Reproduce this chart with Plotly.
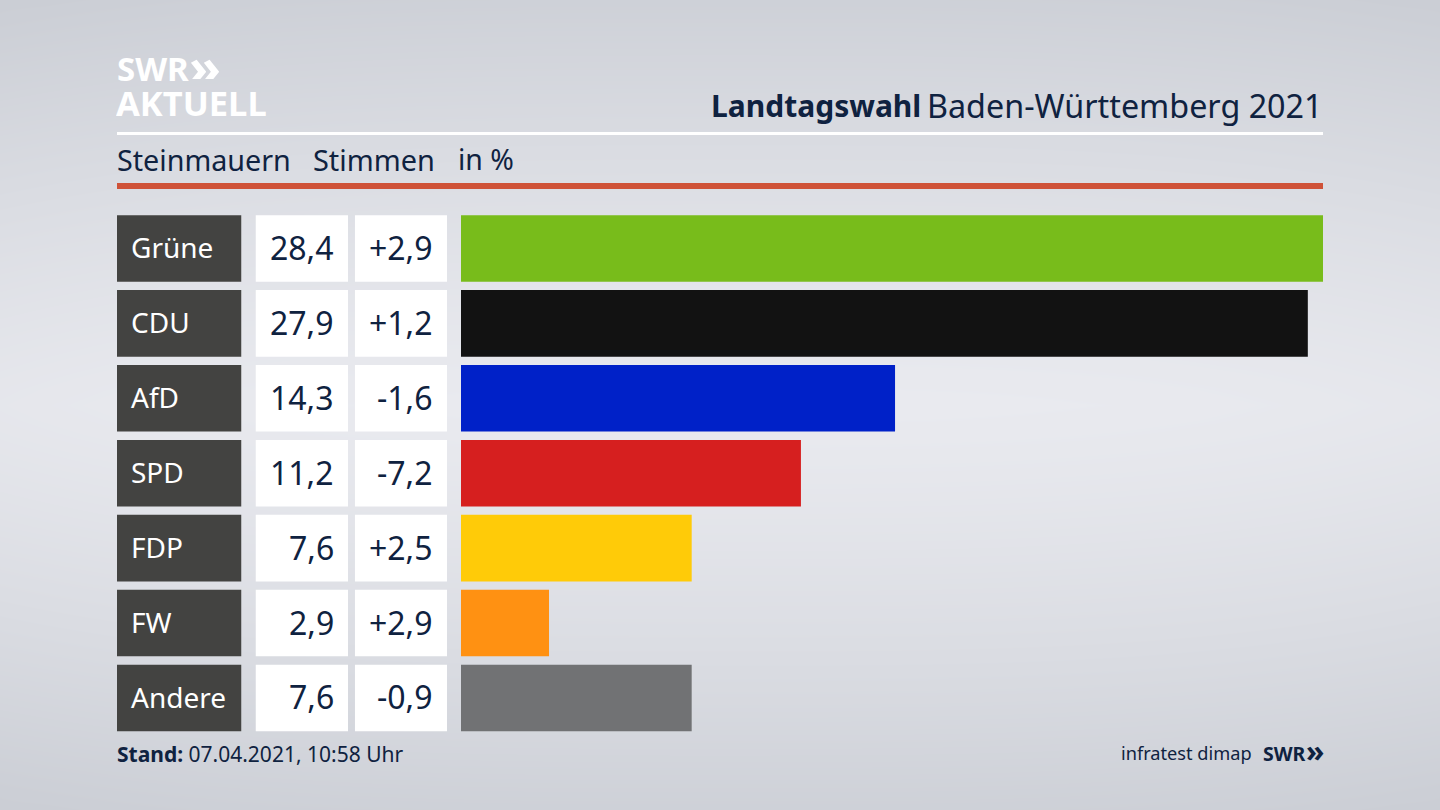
import numpy as np
import plotly.graph_objects as go

parties = ["Grüne", "CDU", "AfD", "SPD", "FDP", "FW", "Andere"]
shares = [28.4, 27.9, 14.3, 11.2, 7.6, 2.9, 7.6]
changes = ["+2,9", "+1,2", "-1,6", "-7,2", "+2,5", "+2,9", "-0,9"]
share_labels = ["28,4", "27,9", "14,3", "11,2", "7,6", "2,9", "7,6"]
colors = ["#78bc1b", "#121212", "#0021c8", "#d61f1f", "#ffcb08", "#ff9112", "#717274"]

W, H = 1440, 810
NAVY = "#0f2240"
FONT = "Noto Sans"

def px(x): return x / W
def py(y): return 1 - y / H

fig = go.Figure()

# background gradient
gx = np.linspace(0, 1, 97)
gy = np.linspace(0, 1, 55)
X, Y = np.meshgrid(gx, gy)
bg = np.clip(1 - (np.abs(Y - 0.5) / 0.5) ** 1.25 * 0.9 - (np.abs(X - 0.5) / 0.5) ** 3 * 0.12, 0, 1)
fig.add_trace(go.Heatmap(x=gx, y=gy, z=bg, zmin=0, zmax=1, zsmooth="best", showscale=False, hoverinfo="skip",
                         colorscale=[[0, "#cbced5"], [1, "#e9eaef"]], xaxis="x", yaxis="y"))

cells = [("x3", "#434341"), ("x4", "#ffffff"), ("x5", "#ffffff")]
for ax, c in cells:
    fig.add_trace(go.Bar(y=parties, x=[1] * 7, orientation="h", marker=dict(color=c, line_width=0),
                         width=0.889, xaxis=ax, yaxis="y2", hoverinfo="skip", showlegend=False))
fig.add_trace(go.Bar(y=parties, x=shares, orientation="h", marker=dict(color=colors, line_width=0),
                     width=0.889, xaxis="x2", yaxis="y2", showlegend=False))

hidden = dict(visible=False, fixedrange=True)
fig.update_layout(
    width=W, height=H, autosize=False, margin=dict(l=0, r=0, t=0, b=0), barmode="overlay",
    paper_bgcolor="#dcdee3", plot_bgcolor="rgba(0,0,0,0)", font=dict(family=FONT, color=NAVY), showlegend=False,
    xaxis=dict(domain=[0, 1], range=[0, 1], **hidden),
    yaxis=dict(domain=[0, 1], range=[0, 1], **hidden),
    xaxis2=dict(domain=[px(461), px(1323)], range=[0, 28.4], anchor="y2", **hidden),
    xaxis3=dict(domain=[px(117), px(241.5)], range=[0, 1], anchor="y2", **hidden),
    xaxis4=dict(domain=[px(255.5), px(348)], range=[0, 1], anchor="y2", **hidden),
    xaxis5=dict(domain=[px(354.8), px(447)], range=[0, 1], anchor="y2", **hidden),
    yaxis2=dict(domain=[py(735.4), py(211)], type="category", categoryorder="array", categoryarray=parties,
                autorange="reversed", anchor="x2", **hidden),
)

ann = []
def text(x, y, s, size, color=NAVY, anchor="left", height=None):
    a = dict(x=px(x), y=py(y), xref="paper", yref="paper", text=s, showarrow=False, xanchor=anchor,
             yanchor="middle", align=anchor, font=dict(size=size, color=color, family=FONT), borderpad=0, borderwidth=0)
    if height:
        a["height"] = height
    ann.append(a)

for i, p in enumerate(parties):
    ann.append(dict(x=px(129), y=p, xref="paper", yref="y2", text=p, showarrow=False, xanchor="left", yshift=1,
                    font=dict(size=28, color="#ffffff", family=FONT)))
    ann.append(dict(x=px(336), y=p, xref="paper", yref="y2", text=share_labels[i], showarrow=False, xanchor="right", yshift=1,
                    font=dict(size=32, color=NAVY, family=FONT)))
    ann.append(dict(x=px(435), y=p, xref="paper", yref="y2", text=changes[i], showarrow=False, xanchor="right", yshift=1,
                    font=dict(size=32, color=NAVY, family=FONT)))

text(921, 105, "<b>Landtagswahl</b>", 30, anchor="right")
text(1323, 105, "Baden-Württemberg 2021", 32.3, anchor="right")
text(117, 159, "Steinmauern", 28.7)
text(313, 159, "Stimmen", 28.9)
text(458, 159, "in %", 28.4)
text(117, 754, "<b>Stand:</b> 07.04.2021, 10:58 Uhr", 21)
text(1252, 753, "infratest dimap", 18.2, anchor="right")
text(1263, 753, "<b>SWR</b>", 19.5)
text(1324, 750, "<b>»</b>", 30, anchor="right")
text(117, 68, "<b>SWR</b>", 33, color="#ffffff", height=28)
text(221, 65, "<b>»</b>", 52, color="#ffffff", anchor="right", height=28)
text(116, 102, "<b>AKTUELL</b>", 34.5, color="#ffffff", height=30)
fig.update_layout(annotations=ann)

fig.update_layout(shapes=[
    dict(type="rect", xref="paper", yref="paper", x0=px(117), x1=px(1323), y0=py(135), y1=py(132), fillcolor="#ffffff", line_width=0),
    dict(type="rect", xref="paper", yref="paper", x0=px(117), x1=px(1323), y0=py(189), y1=py(183), fillcolor="#cf5238", line_width=0),
])

fig.write_html("out.html", config=dict(displayModeBar=False),
               post_script="document.documentElement.style.margin='0';document.body.style.margin='0';document.body.style.padding='0';document.body.style.overflow='hidden';")
